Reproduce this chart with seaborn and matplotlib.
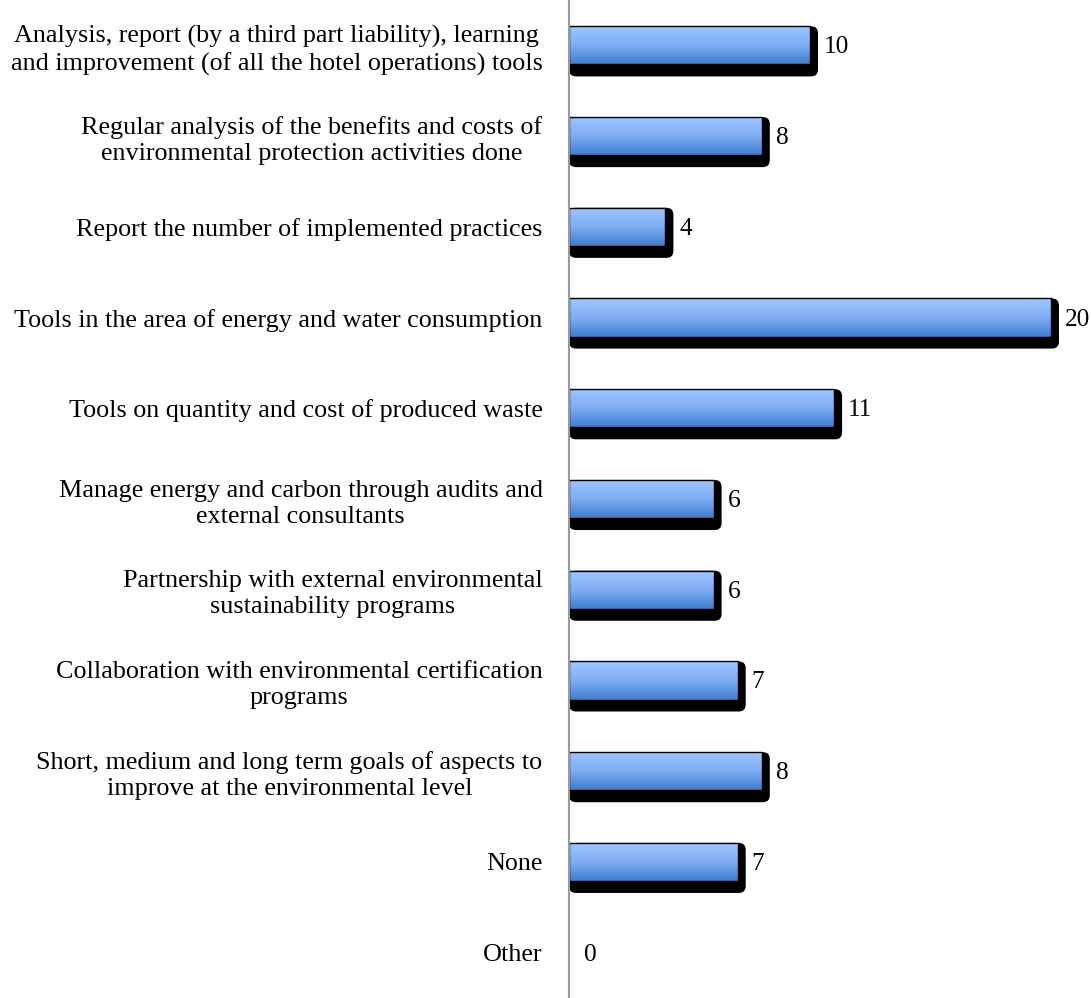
import numpy as np
import pandas as pd
import matplotlib
matplotlib.use("Agg")
import matplotlib.pyplot as plt
from matplotlib.patches import FancyBboxPatch
from matplotlib.colors import LinearSegmentedColormap
import seaborn as sns

categories = [
    "Analysis, report (by a third part liability), learning\nand improvement (of all the hotel operations) tools",
    "Regular analysis of the benefits and costs of\nenvironmental protection activities done",
    "Report the number of implemented practices",
    "Tools in the area of energy and water consumption",
    "Tools on quantity and cost of produced waste",
    "Manage energy and carbon through audits and\nexternal consultants",
    "Partnership with external environmental\nsustainability programs",
    "Collaboration with environmental certification\nprograms",
    "Short, medium and long term goals of aspects to\nimprove at the environmental level",
    "None",
    "Other",
]
counts = [10, 8, 4, 20, 11, 6, 6, 7, 8, 7, 0]

df = pd.DataFrame({"practice": categories, "hotels": counts})

sns.set_theme(style="white")
plt.rcParams["font.family"] = ["Liberation Serif", "DejaVu Serif"]

fig = plt.figure(figsize=(10.91, 9.98), dpi=100)
ax = fig.add_axes([569 / 1091, 0.0, 1 - 569 / 1091, 1.0])

bar_h = 0.42
sns.barplot(data=df, x="hotels", y="practice", orient="h", width=bar_h,
            color="#6f9fe8", edgecolor="black", linewidth=1.0, ax=ax, zorder=3)

ax.set_xlim(0, (1091 - 569) / 24.1)
ax.set_ylim(len(categories) - 0.5, -0.5)

# pixel sizes expressed in data units
px_x = 1 / 24.1
px_y = 1 / 90.8
sh_dx = 8 * px_x
sh_dy = 12 * px_y

grad = LinearSegmentedColormap.from_list("bluegrad", ["#a0c6ff", "#80aef5", "#3f7dd0"])
gvals = np.linspace(0, 1, 64).reshape(-1, 1)

for i, patch in enumerate(ax.patches[:len(counts)]):
    v = counts[i]
    if v <= 0:
        patch.set_visible(False)
        continue
    y0 = patch.get_y()
    h = patch.get_height()
    # drop shadow behind the bar
    shadow = FancyBboxPatch((0, y0), v + sh_dx, h + sh_dy,
                            boxstyle="round,pad=0,rounding_size=%f" % (7 * px_x),
                            mutation_aspect=(7 * px_y) / (7 * px_x),
                            facecolor="black", edgecolor="none", zorder=2)
    ax.add_patch(shadow)
    # vertical gradient fill clipped to the bar
    im = ax.imshow(gvals, cmap=grad, aspect="auto", origin="upper",
                   extent=(0, v, y0 + h, y0), zorder=3.5, interpolation="bilinear")
    im.set_clip_path(patch)
    patch.set_facecolor("none")
    patch.set_zorder(4)

for i, v in enumerate(counts):
    xoff = v + sh_dx + 6 * px_x if v > 0 else 15 * px_x
    ax.text(xoff, i + 2 * px_y, str(v), va="center", ha="left", fontsize=18.3,
            color="black", clip_on=False)

ax.set_xlim(0, (1091 - 569) / 24.1)
ax.set_ylim(len(categories) - 0.5, -0.5)

ax.set_xlabel("")
ax.set_ylabel("")
ax.set_xticks([])
ax.tick_params(axis="y", length=0, pad=19, labelsize=18.8)
for lab in ax.get_yticklabels():
    lab.set_multialignment("center")
    lab.set_linespacing(1.25)
    lab.set_color("black")

for s in ["top", "right", "bottom"]:
    ax.spines[s].set_visible(False)
ax.spines["left"].set_color("#9a9a9a")
ax.spines["left"].set_linewidth(1.5)
ax.spines["left"].set_zorder(5)
ax.set_facecolor("white")

fig.savefig("out.png", dpi=100, facecolor="white")
